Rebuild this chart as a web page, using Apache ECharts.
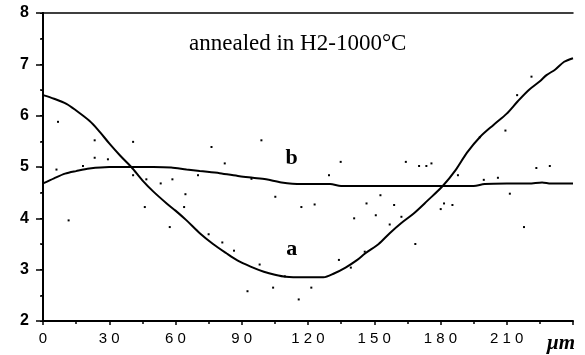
<!DOCTYPE html>
<html><head><meta charset="utf-8">
<script src="https://cdn.jsdelivr.net/npm/echarts@6/dist/echarts.min.js"></script>
<style>html,body{margin:0;padding:0;background:#fff}#c{width:585px;height:355px}</style>
</head><body><div id="c"></div>
<script>
var xTickLabels = ['0','30','60','90','120','150','180','210'];
var xUnit = 'μm';
var yTickLabels = ['2','3','4','5','6','7','8'];
var titleText = 'annealed in H2-1000°C';
var curveLabels = [{name:'a',x:112.6,y:3.4},{name:'b',x:112.6,y:5.17}];
var curveA = [[0,6.4],[5,6.33],[10.6,6.23],[15,6.1],[21,5.9],[25,5.72],[30,5.46],[35,5.22],[40,5.0],[45,4.74],[50,4.52],[56,4.29],[60,4.15],[65,3.96],[71,3.71],[77,3.5],[83,3.32],[88,3.18],[94,3.06],[100,2.96],[105,2.9],[110,2.86],[118,2.85],[127,2.85],[132,2.93],[137,3.04],[142,3.18],[146,3.32],[152,3.5],[157,3.71],[162,3.9],[168,4.1],[174,4.34],[181,4.63],[187,4.95],[192,5.28],[198,5.59],[204,5.82],[210,6.04],[215,6.28],[220,6.5],[225,6.67],[228,6.79],[232,6.9],[236,7.05],[240,7.12]];
var curveB = [[0,4.68],[5,4.78],[10,4.87],[15,4.92],[21,4.97],[30,5.0],[40,5.0],[50,5.0],[58,4.99],[65,4.95],[71,4.92],[80,4.88],[89,4.82],[95,4.79],[101,4.76],[108,4.7],[117,4.67],[125,4.67],[130,4.67],[135,4.63],[150,4.63],[165,4.63],[180,4.63],[195,4.63],[200,4.67],[210,4.68],[220,4.68],[226,4.7],[230,4.68],[240,4.68]];
var dots = [[6.8,5.88],[23.4,5.52],[40.8,5.49],[76.3,5.39],[98.9,5.52],[6.1,4.95],[18.1,5.02],[23.4,5.18],[29.4,5.15],[82.3,5.07],[221.2,6.76],[214.7,6.4],[209.4,5.71],[197.8,5.58],[134.8,5.1],[129.5,4.84],[164.3,5.1],[170.3,5.02],[173.6,5.02],[175.9,5.07],[223.4,4.98],[229.5,5.02],[187.9,4.84],[11.6,3.96],[40.8,4.84],[46.8,4.76],[53.3,4.68],[58.6,4.76],[70.2,4.84],[64.5,4.47],[46.1,4.22],[63.9,4.22],[57.4,3.83],[75,3.69],[81.2,3.53],[86.5,3.37],[98.1,3.1],[109.5,2.87],[92.6,2.58],[104.2,2.65],[115.8,2.42],[121.5,2.65],[94.4,4.77],[105.2,4.42],[117,4.22],[123,4.27],[134,3.19],[139.4,3.04],[140.9,4.0],[145.7,3.35],[146.5,4.29],[150.7,4.06],[152.8,4.45],[157,3.88],[159,4.26],[162.3,4.03],[168.6,3.5],[180.1,4.18],[181.6,4.29],[185.4,4.26],[199.6,4.75],[206,4.79],[211.4,4.48],[217.8,3.83]];

var chart = echarts.init(document.getElementById('c'), null, {renderer:'canvas'});
chart.setOption({
  animation:false,
  backgroundColor:'#fff',
  grid:{left:43,right:12,top:13,bottom:34},
  xAxis:[{
    type:'value',min:0,max:240,interval:30,
    axisLine:{show:true,onZero:false,lineStyle:{color:'#000',width:2}},
    axisTick:{show:true,inside:false,length:4,lineStyle:{color:'#000',width:1.5}},
    minorTick:{show:true,splitNumber:2,length:3,lineStyle:{color:'#000',width:1.5}},
    splitLine:{show:false},
    axisLabel:{margin:10,color:'#000',fontFamily:'Liberation Sans',fontSize:15,
      formatter:function(v){var i=v/30; if(i<xTickLabels.length) return xTickLabels[i].split('').join(' '); return '';}}
  },{
    type:'value',min:0,max:240,position:'top',
    axisLine:{show:true,lineStyle:{color:'#000',width:1.5}},
    axisTick:{show:false},axisLabel:{show:false},splitLine:{show:false}
  }],
  yAxis:[{
    type:'value',min:2,max:8,interval:1,
    axisLine:{show:true,onZero:false,lineStyle:{color:'#000',width:2}},
    axisTick:{show:true,length:7,lineStyle:{color:'#000',width:1.5}},
    minorTick:{show:true,splitNumber:2,length:3,lineStyle:{color:'#000',width:1.5}},
    splitLine:{show:false},
    axisLabel:{margin:14,color:'#000',fontFamily:'Liberation Sans',fontWeight:'bold',fontSize:16,
      formatter:function(v){return yTickLabels[Math.round(v-2)];}}
  },{
    type:'value',min:2,max:8,interval:1,position:'right',
    axisLine:{show:true,lineStyle:{color:'#000',width:2}},
    axisTick:{show:true,inside:true,length:3,lineStyle:{color:'#000',width:1}},
    minorTick:{show:true,splitNumber:2,length:2,lineStyle:{color:'#000',width:1}},
    axisLabel:{show:false},splitLine:{show:false}
  }],
  title:{text:titleText,left:184,top:27,
    textStyle:{fontFamily:'Liberation Serif',fontWeight:'normal',fontSize:23,color:'#000'}},
  series:[
    {type:'line',data:curveA,smooth:0.3,showSymbol:false,lineStyle:{color:'#000',width:2}},
    {type:'line',data:curveB,smooth:0.3,showSymbol:false,lineStyle:{color:'#000',width:2}},
    {type:'scatter',data:dots,symbol:'rect',symbolSize:2,itemStyle:{color:'#000',opacity:1}},
    {type:'scatter',data:curveLabels.map(function(d){return {value:[d.x,d.y],name:d.name};}),
      symbolSize:1,itemStyle:{color:'#fff',opacity:1},
      label:{show:true,position:'inside',formatter:'{b}',color:'#000',opacity:1,fontFamily:'Liberation Serif',fontWeight:'bold',fontSize:22}}
  ],
  graphic:[{type:'text',left:547,top:333,style:{text:xUnit,fill:'#000',font:'italic bold 21px "Liberation Serif"'}}]
});
</script></body></html>
